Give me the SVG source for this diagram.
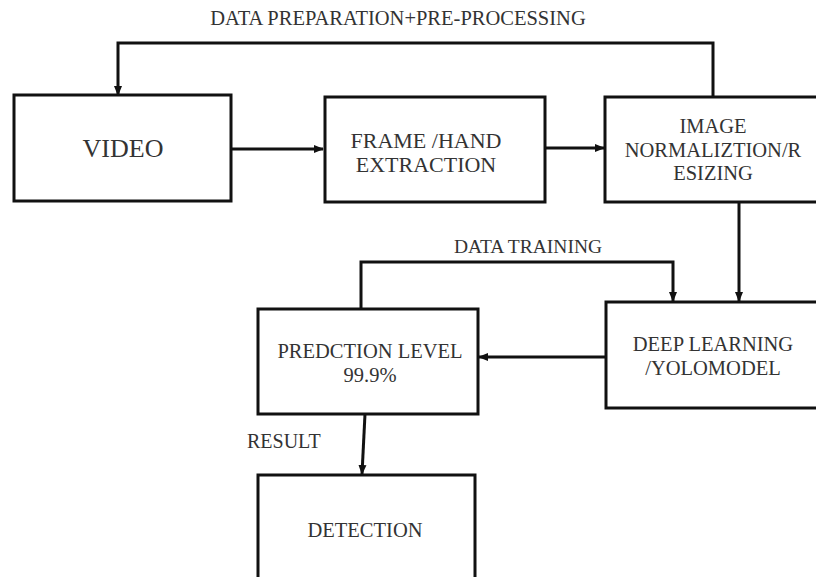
<svg xmlns="http://www.w3.org/2000/svg" width="816" height="577" viewBox="0 0 816 577">
<style>
.box{fill:#fff;stroke:#111;stroke-width:3}
.lbl{font-family:"Liberation Serif","Times New Roman",serif;fill:#333;text-anchor:middle;font-size:20.5px}
.con{fill:none;stroke:#111;stroke-width:3}
</style>
<defs>
<marker id="ah" markerUnits="userSpaceOnUse" markerWidth="10" markerHeight="10" viewBox="0 0 10 10" refX="9" refY="5" orient="auto">
<path d="M0,1 L10,5 L0,9 Z" fill="#111"/>
</marker>
</defs>
<rect width="816" height="577" fill="#fff"/>
<g id="connectors">
<path class="con" d="M713,97 V43 H118 V95" marker-end="url(#ah)"/>
<path class="con" d="M232,149 H323" marker-end="url(#ah)"/>
<path class="con" d="M545,148 H604" marker-end="url(#ah)"/>
<path class="con" d="M739,203 V301" marker-end="url(#ah)"/>
<path class="con" d="M361,308 V262 H673 V301" marker-end="url(#ah)"/>
<path class="con" d="M606,357 H479" marker-end="url(#ah)"/>
<path class="con" d="M365,414 L362,474" marker-end="url(#ah)"/>
</g>
<text class="lbl" x="398" y="25" font-size="20">DATA PREPARATION+PRE-PROCESSING</text>
<text class="lbl" x="528" y="253" style="font-size:19.5px">DATA TRAINING</text>
<text class="lbl" x="247" y="448" style="text-anchor:start;font-size:20px">RESULT</text>
<g id="video">
<rect class="box" x="14" y="95" width="217" height="106"/>
<text class="lbl" x="123" y="157" style="font-size:26px">VIDEO</text>
</g>
<g id="frame">
<rect class="box" x="325" y="97" width="220" height="105"/>
<text class="lbl" x="426" y="148" style="font-size:22px">FRAME /HAND</text>
<text class="lbl" x="426" y="172" style="font-size:22px">EXTRACTION</text>
</g>
<g id="image">
<rect class="box" x="605" y="97" width="220" height="105"/>
<text class="lbl" x="713" y="133">IMAGE</text>
<text class="lbl" x="713" y="157">NORMALIZTION/R</text>
<text class="lbl" x="713" y="180">ESIZING</text>
</g>
<g id="deep">
<rect class="box" x="606" y="302" width="220" height="106"/>
<text class="lbl" x="713" y="351">DEEP LEARNING</text>
<text class="lbl" x="713" y="375">/YOLOMODEL</text>
</g>
<g id="prediction">
<rect class="box" x="258" y="309" width="220" height="105"/>
<text class="lbl" x="370" y="358">PREDCTION LEVEL</text>
<text class="lbl" x="370" y="382">99.9%</text>
</g>
<g id="detection">
<rect class="box" x="258" y="475" width="217" height="120"/>
<text class="lbl" x="365" y="537">DETECTION</text>
</g>
</svg>
